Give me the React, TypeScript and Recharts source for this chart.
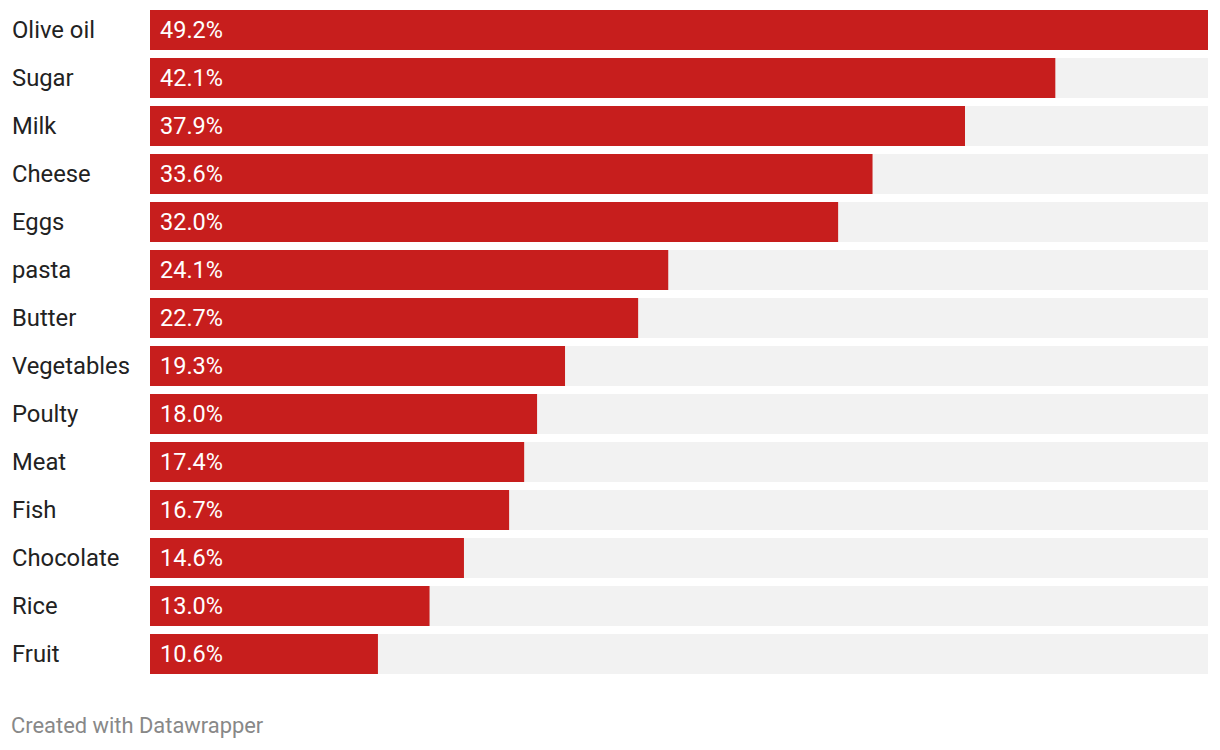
import React from "react";
import { BarChart, Bar, XAxis, YAxis, LabelList } from "recharts";

const categories = ["Olive oil", "Sugar", "Milk", "Cheese", "Eggs", "pasta", "Butter", "Vegetables", "Poulty", "Meat", "Fish", "Chocolate", "Rice", "Fruit"];
const values = [49.2, 42.1, 37.9, 33.6, 32.0, 24.1, 22.7, 19.3, 18.0, 17.4, 16.7, 14.6, 13.0, 10.6];

const data = categories.map((c, i) => ({ name: c, value: values[i] }));

const FONT = "Roboto, 'Noto Sans', sans-serif";

const CatTick = (props: any) => {
  const { y, payload } = props;
  return (
    <text x={12} y={y} dy={8} textAnchor="start" fill="#222" fontSize={23.8} fontFamily={FONT}>
      {payload.value}
    </text>
  );
};

const ValueLabel = (props: any) => {
  const { x, y, height, value } = props;
  return (
    <text x={x + 10} y={y + height / 2} dy={8} textAnchor="start" fill="#fff" fontSize={23.5} fontFamily={FONT}>
      {`${Number(value).toFixed(1)}%`}
    </text>
  );
};

export default function App() {
  return (
    <div style={{ position: "absolute", left: 0, top: 0, width: 1220, height: 750, background: "#fff", fontFamily: FONT }}>
      <BarChart
        width={1220}
        height={684}
        data={data}
        layout="vertical"
        margin={{ top: 6, right: 12, bottom: 6, left: 0 }}
        barCategoryGap={4}
      >
        <XAxis type="number" domain={[0, 49.2]} hide />
        <YAxis type="category" dataKey="name" width={150} axisLine={false} tickLine={false} tick={<CatTick />} interval={0} />
        <Bar dataKey="value" fill="#c71e1d" barSize={40} background={{ fill: "#f2f2f2" }} isAnimationActive={false}>
          <LabelList dataKey="value" content={<ValueLabel />} />
        </Bar>
      </BarChart>
      <svg width={1220} height={60} style={{ position: "absolute", left: 0, top: 690 }}>
        <text x={11} y={43} fontSize={21.9} fill="#888" fontFamily={FONT}>
          Created with Datawrapper
        </text>
      </svg>
    </div>
  );
}
